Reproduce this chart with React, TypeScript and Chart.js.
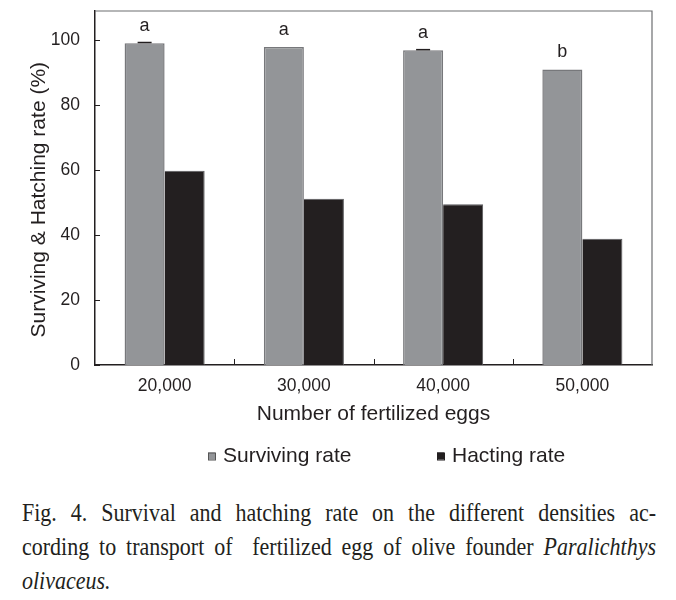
import React, { useEffect, useRef } from 'react';
import { Chart, registerables } from 'chart.js';

Chart.register(...registerables);

// ---- data ----
const categories = ['20,000', '30,000', '40,000', '50,000'];
const survivingRate = [99.1, 97.9, 96.9, 91.0];
const hatchingRate = [59.8, 51.2, 49.5, 38.9];
const survivingError = [0.2, 0, 0.2, 0];
const letters = ['a', 'a', 'a', 'b'];
const yTickValues = [0, 20, 40, 60, 80, 100];
const seriesNames = ['Surviving rate', 'Hacting rate'];
const xTitle = 'Number of fertilized eggs';
const yTitle = 'Surviving & Hatching rate (%)    ';
const captionLine1 = 'Fig. 4. Survival and hatching rate on the different densities ac-';
const captionLine2 = 'cording to transport of  fertilized egg of olive founder ';
const captionItalic2 = 'Paralichthys';
const captionItalic3 = 'olivaceus.';

const SANS = '"Liberation Sans", Arial, Helvetica, sans-serif';
const INK = '#231f20';
const GREY = '#939598';
const GREY_EDGE = '#77787b';

const framePlugin = {
  id: 'frame',
  afterDraw(chart: any) {
    const { ctx, chartArea } = chart;
    const { left, right, top, bottom } = chartArea;
    ctx.save();
    ctx.strokeStyle = '#6d6e71';
    ctx.lineWidth = 1.2;
    ctx.beginPath();
    ctx.moveTo(left, top);
    ctx.lineTo(right, top);
    ctx.lineTo(right, bottom);
    ctx.stroke();
    const ys = chart.scales.y;
    ctx.strokeStyle = INK;
    ctx.lineWidth = 1;
    ys.ticks.forEach((t: any) => {
      const py = Math.round(ys.getPixelForValue(t.value)) + 0.5;
      ctx.beginPath();
      ctx.moveTo(left, py);
      ctx.lineTo(left + 5, py);
      ctx.stroke();
    });
    const xs = chart.scales.x;
    for (let i = 0; i < categories.length - 1; i++) {
      const px = Math.round((xs.getPixelForValue(i) + xs.getPixelForValue(i + 1)) / 2) + 0.5;
      ctx.beginPath();
      ctx.moveTo(px, bottom);
      ctx.lineTo(px, bottom - 6);
      ctx.stroke();
    }
    const meta = chart.getDatasetMeta(0);
    ctx.font = `18px ${SANS}`;
    ctx.fillStyle = INK;
    ctx.textAlign = 'center';
    ctx.textBaseline = 'bottom';
    meta.data.forEach((bar: any, i: number) => {
      const err = survivingError[i];
      if (err > 0) {
        const py = ys.getPixelForValue(survivingRate[i] + err);
        ctx.lineWidth = 1.5;
        ctx.beginPath();
        ctx.moveTo(bar.x - 7, py);
        ctx.lineTo(bar.x + 7, py);
        ctx.stroke();
      }
      ctx.fillText(letters[i], bar.x, bar.y - 8);
    });
    const lx = [208, 437];
    const ly = chart.scales.x.bottom + 27;
    ctx.font = `21px ${SANS}`;
    ctx.textAlign = 'left';
    ctx.textBaseline = 'middle';
    chart.data.datasets.forEach((ds: any, i: number) => {
      ctx.fillStyle = ds.backgroundColor;
      ctx.fillRect(lx[i], ly - 3.5, 7, 7);
      ctx.strokeStyle = i === 0 ? '#555' : INK;
      ctx.lineWidth = 1;
      ctx.strokeRect(lx[i] + 0.5, ly - 3.5 + 0.5, 7, 7);
      ctx.fillStyle = INK;
      ctx.fillText(ds.label, lx[i] + 15, ly);
    });
    ctx.restore();
  },
};

const SCALE_X = 0.88;

const lineStyle: React.CSSProperties = {
  whiteSpace: 'pre',
  textAlign: 'justify',
  textAlignLast: 'justify',
  height: 34,
};

export default function App() {
  const ref = useRef<HTMLCanvasElement>(null);
  useEffect(() => {
    if (!ref.current) return;
    const chart = new Chart(ref.current, {
      type: 'bar',
      data: {
        labels: categories,
        datasets: [
          {
            label: seriesNames[0],
            data: survivingRate,
            backgroundColor: GREY,
            borderColor: GREY_EDGE,
            borderWidth: { top: 1.5, left: 1.5, right: 1.5, bottom: 0 } as any,
            categoryPercentage: 0.575,
            barPercentage: 1,
          },
          {
            label: seriesNames[1],
            data: hatchingRate,
            backgroundColor: INK,
            borderColor: '#5a5a5c',
            borderWidth: { top: 1, left: 0, right: 1, bottom: 0 } as any,
            categoryPercentage: 0.575,
            barPercentage: 1,
          },
        ],
      },
      options: {
        responsive: false,
        animation: false,
        devicePixelRatio: 1,
        layout: { padding: { left: 0, top: 11, right: 24, bottom: 51 } },
        plugins: { legend: { display: false }, tooltip: { enabled: false } },
        scales: {
          x: {
            grid: { display: false, drawTicks: false },
            border: { display: true, color: INK, width: 1.5 },
            ticks: { color: INK, font: { family: SANS, size: 17.5 }, padding: 11 },
            title: {
              display: true,
              text: xTitle,
              color: INK,
              font: { family: SANS, size: 21 },
              padding: { top: 0, bottom: 2 },
            },
            afterFit: (s: any) => {
              s.height = 64;
              s.paddingLeft = 0;
              s.paddingRight = 0;
            },
          },
          y: {
            min: 0,
            max: 109,
            grid: { display: false, drawTicks: false },
            border: { display: true, color: INK, width: 1.5 },
            ticks: { color: INK, font: { family: SANS, size: 17.5 }, padding: 15, stepSize: 20 },
            afterBuildTicks: (s: any) => {
              s.ticks = yTickValues.map((v) => ({ value: v }));
            },
            title: {
              display: true,
              text: yTitle,
              color: INK,
              font: { family: SANS, size: 21 },
              padding: { top: 27, bottom: 0 },
            },
            afterFit: (s: any) => {
              s.width = 95;
              s.paddingTop = 0;
              s.paddingBottom = 0;
            },
          },
        },
      },
      plugins: [framePlugin],
    });
    return () => chart.destroy();
  }, []);

  return (
    <div style={{ position: 'absolute', left: 0, top: 0, width: 676, height: 600, background: '#fff', overflow: 'hidden' }}>
      <canvas ref={ref} width={676} height={480} style={{ position: 'absolute', left: 0, top: 0 }} />
      <div
        style={{
          position: 'absolute',
          left: 22,
          top: 496,
          width: 634 / SCALE_X,
          transform: `scaleX(${SCALE_X})`,
          transformOrigin: 'left top',
          fontFamily: '"Liberation Serif", "Times New Roman", serif',
          fontSize: 25,
          lineHeight: '34px',
          color: INK,
        }}
      >
        <div style={lineStyle}>{captionLine1}</div>
        <div style={lineStyle}>
          {captionLine2}
          <i>{captionItalic2}</i>
        </div>
        <div style={{ height: 34 }}>
          <i>{captionItalic3}</i>
        </div>
      </div>
    </div>
  );
}
